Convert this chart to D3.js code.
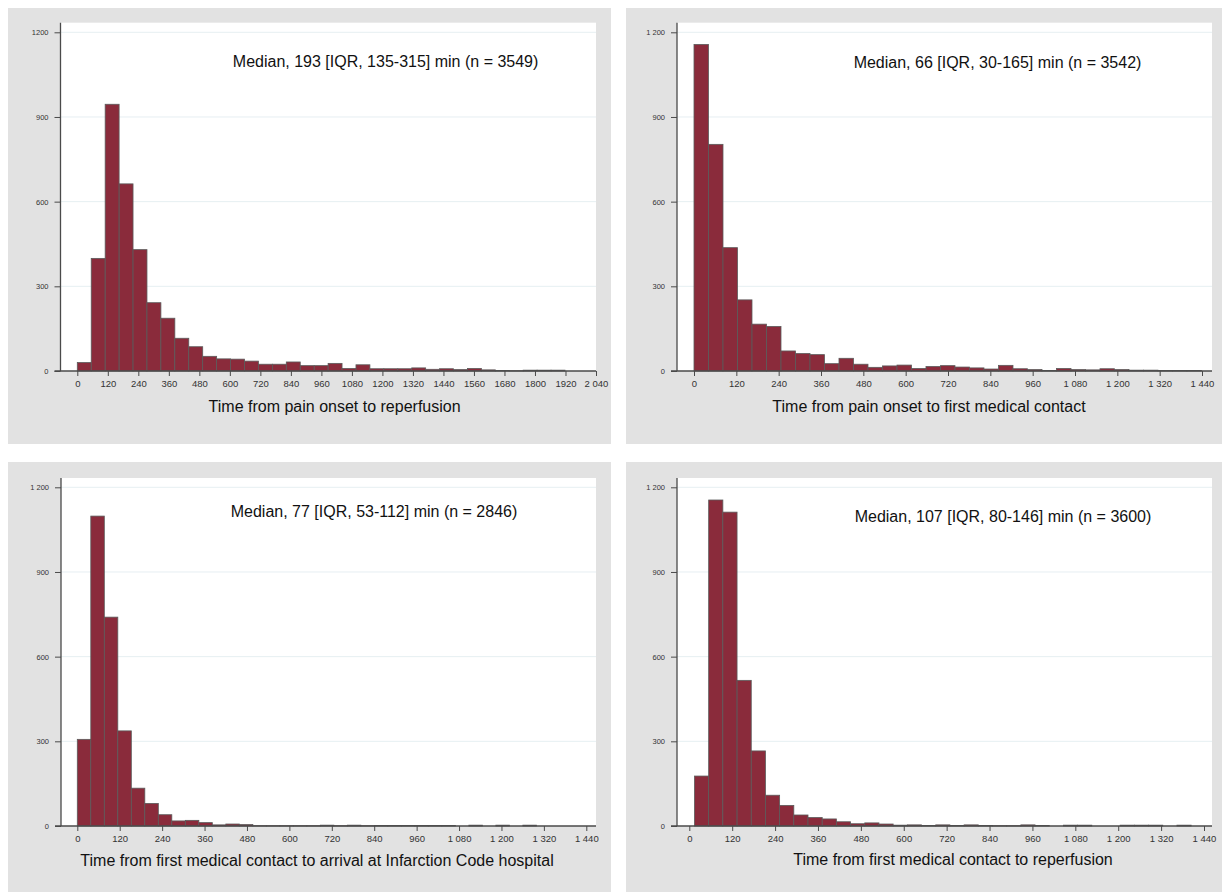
<!DOCTYPE html>
<html>
<head>
<meta charset="utf-8">
<script src="https://cdn.jsdelivr.net/npm/d3@7"></script>
<style>
  html, body { margin: 0; padding: 0; background: #ffffff; }
  svg { display: block; }
  text { font-family: "Liberation Sans", Arial, Helvetica, sans-serif; }
</style>
</head>
<body>
<svg id="chart" width="1224" height="894"></svg>
<script>
// ---------------- DATA ----------------
const titles = [
  "Time from pain onset to reperfusion",
  "Time from pain onset to first medical contact",
  "Time from first medical contact to arrival at Infarction Code hospital",
  "Time from first medical contact to reperfusion"
];
const annotations = [
  "Median, 193 [IQR, 135-315] min (n = 3549)",
  "Median, 66 [IQR, 30-165] min (n = 3542)",
  "Median, 77 [IQR, 53-112] min (n = 2846)",
  "Median, 107 [IQR, 80-146] min (n = 3600)"
];
// histogram bins: start (min) and bin width in minutes
const binStart = [0, 0, 0, 14.5];
const binWidth = [54.8, 41.1, 38.2, 39.7];
// frequencies per bin
const countsPainReperfusion = [30, 399, 945, 663, 430, 242, 187, 116, 86, 52, 43, 42, 35, 24, 24, 32, 19, 19, 27, 9, 22, 8, 8, 8, 11, 6, 8, 5, 9, 4, 2, 1, 3, 3, 3];
const countsPainFMC = [1157, 803, 437, 252, 166, 158, 71, 62, 58, 26, 45, 24, 13, 18, 21, 9, 16, 19, 14, 11, 7, 20, 8, 5, 2, 9, 5, 4, 8, 5, 3, 3, 2, 2, 2];
const countsFMCArrival = [307, 1098, 740, 337, 134, 80, 40, 18, 20, 12, 4, 7, 5, 1, 1, 1, 1, 1, 3, 1, 3, 1, 2, 2, 2, 2, 2, 2, 0, 3, 0, 3, 0, 3];
const countsFMCReperfusion = [177, 1155, 1112, 516, 266, 109, 73, 39, 30, 25, 15, 8, 11, 7, 3, 4, 2, 4, 2, 4, 2, 1, 1, 4, 2, 0, 3, 3, 0, 0, 3, 3, 3, 0, 3];
const seriesCounts = [countsPainReperfusion, countsPainFMC, countsFMCArrival, countsFMCReperfusion];
// axis ticks
const xMax = [2040, 1440, 1440, 1440];
const xTickStep = 120;
const yTicks = [0, 300, 600, 900, 1200];
const yTickLabelsTop = ["0", "300", "600", "900", "1200"];
const yTickLabelsSpaced = ["0", "300", "600", "900", "1 200"];
const xThousandsSpace = [false, true, true, true];

// ---------------- LAYOUT ----------------
const layout = [
  { bg: [8, 8, 603, 436], plotL: 60.5, plotR: 596, plotT: 22.7, axisY: 371, y1200: 32.3, x0: 77.3, xEnd: 596,
    annX: 385.6, annY: 67, titleX: 334.6, titleY: 412 },
  { bg: [626, 8, 596, 436], plotL: 677, plotR: 1212, plotT: 22.7, axisY: 371, y1200: 32.3, x0: 694, xEnd: 1202,
    annX: 997.5, annY: 68, titleX: 929, titleY: 412 },
  { bg: [8, 462, 603, 430], plotL: 61, plotR: 596, plotT: 478, axisY: 826, y1200: 487.3, x0: 77.3, xEnd: 586.3,
    annX: 374, annY: 517, titleX: 317, titleY: 866 },
  { bg: [626, 462, 596, 430], plotL: 677, plotR: 1212, plotT: 478, axisY: 826, y1200: 487.3, x0: 689.3, xEnd: 1204,
    annX: 1003, annY: 522, titleX: 953, titleY: 865 }
];

const svg = d3.select("#chart");
const BAR_FILL = "#8a2b3b";
const BAR_STROKE = "#5b5b5b";
const AXIS_COLOR = "#4a4a4a";

function fmtX(v, spaced) {
  const s = String(v);
  if ((spaced && v >= 1000) || (!spaced && v >= 2000)) {
    return s.slice(0, s.length - 3) + " " + s.slice(s.length - 3);
  }
  return s;
}

layout.forEach((L, i) => {
  const g = svg.append("g");
  // graph region background
  g.append("rect").attr("x", L.bg[0]).attr("y", L.bg[1]).attr("width", L.bg[2]).attr("height", L.bg[3])
    .attr("fill", "#e2e2e2");
  // plot region
  g.append("rect").attr("x", L.plotL).attr("y", L.plotT).attr("width", L.plotR - L.plotL).attr("height", L.axisY - L.plotT)
    .attr("fill", "#ffffff");

  const x = d3.scaleLinear().domain([0, xMax[i]]).range([L.x0, L.xEnd]);
  const y = d3.scaleLinear().domain([0, 1200]).range([L.axisY, L.y1200]);

  // gridlines
  g.append("g").selectAll("line").data(yTicks.filter(t => t > 0)).join("line")
    .attr("x1", L.plotL).attr("x2", L.plotR)
    .attr("y1", d => y(d)).attr("y2", d => y(d))
    .attr("stroke", "#e6eff2").attr("stroke-width", 1);

  // bars
  const counts = seriesCounts[i];
  const bins = counts.map((c, k) => ({ x0: binStart[i] + k * binWidth[i], x1: binStart[i] + (k + 1) * binWidth[i], c }));
  g.append("g").selectAll("rect").data(bins).join("rect")
    .attr("x", d => x(d.x0))
    .attr("width", d => x(d.x1) - x(d.x0))
    .attr("y", d => y(d.c))
    .attr("height", d => y(0) - y(d.c))
    .attr("fill", BAR_FILL)
    .attr("stroke", BAR_STROKE)
    .attr("stroke-width", 0.8);

  // x axis
  const xTicks = d3.range(0, xMax[i] + 1, xTickStep);
  const xAxis = d3.axisBottom(x).tickValues(xTicks).tickSize(5).tickPadding(4)
    .tickFormat(d => fmtX(d, xThousandsSpace[i]));
  const xg = g.append("g").attr("transform", `translate(0,${L.axisY})`).call(xAxis);
  xg.select(".domain").remove();
  xg.append("line").attr("x1", L.plotL - 6).attr("x2", L.plotR).attr("y1", 0).attr("y2", 0)
    .attr("stroke", AXIS_COLOR).attr("stroke-width", 1.3);
  xg.selectAll(".tick line").attr("stroke", AXIS_COLOR).attr("stroke-width", 1);
  xg.selectAll(".tick text").attr("fill", "#333").style("font-size", "9.5px")
    .style("font-family", '"Liberation Sans", Arial, sans-serif');

  // y axis
  const yLabels = i === 0 ? yTickLabelsTop : yTickLabelsSpaced;
  const yAxis = d3.axisLeft(y).tickValues(yTicks).tickSize(6).tickPadding(6)
    .tickFormat((d, k) => yLabels[k]);
  const yg = g.append("g").attr("transform", `translate(${L.plotL},0)`).call(yAxis);
  yg.select(".domain").remove();
  yg.append("line").attr("x1", 0).attr("x2", 0).attr("y1", L.plotT).attr("y2", L.axisY)
    .attr("stroke", AXIS_COLOR).attr("stroke-width", 1.3);
  yg.selectAll(".tick line").attr("stroke", AXIS_COLOR).attr("stroke-width", 1);
  yg.selectAll(".tick text").attr("fill", "#333").style("font-size", "7.5px")
    .style("font-family", '"Liberation Sans", Arial, sans-serif');

  // annotation
  g.append("text").attr("x", L.annX).attr("y", L.annY).attr("text-anchor", "middle")
    .attr("fill", "#111").style("font-size", "16px").text(annotations[i]);
  // axis title
  g.append("text").attr("x", L.titleX).attr("y", L.titleY).attr("text-anchor", "middle")
    .attr("fill", "#111").style("font-size", "16px").text(titles[i]);
});
</script>
</body>
</html>
